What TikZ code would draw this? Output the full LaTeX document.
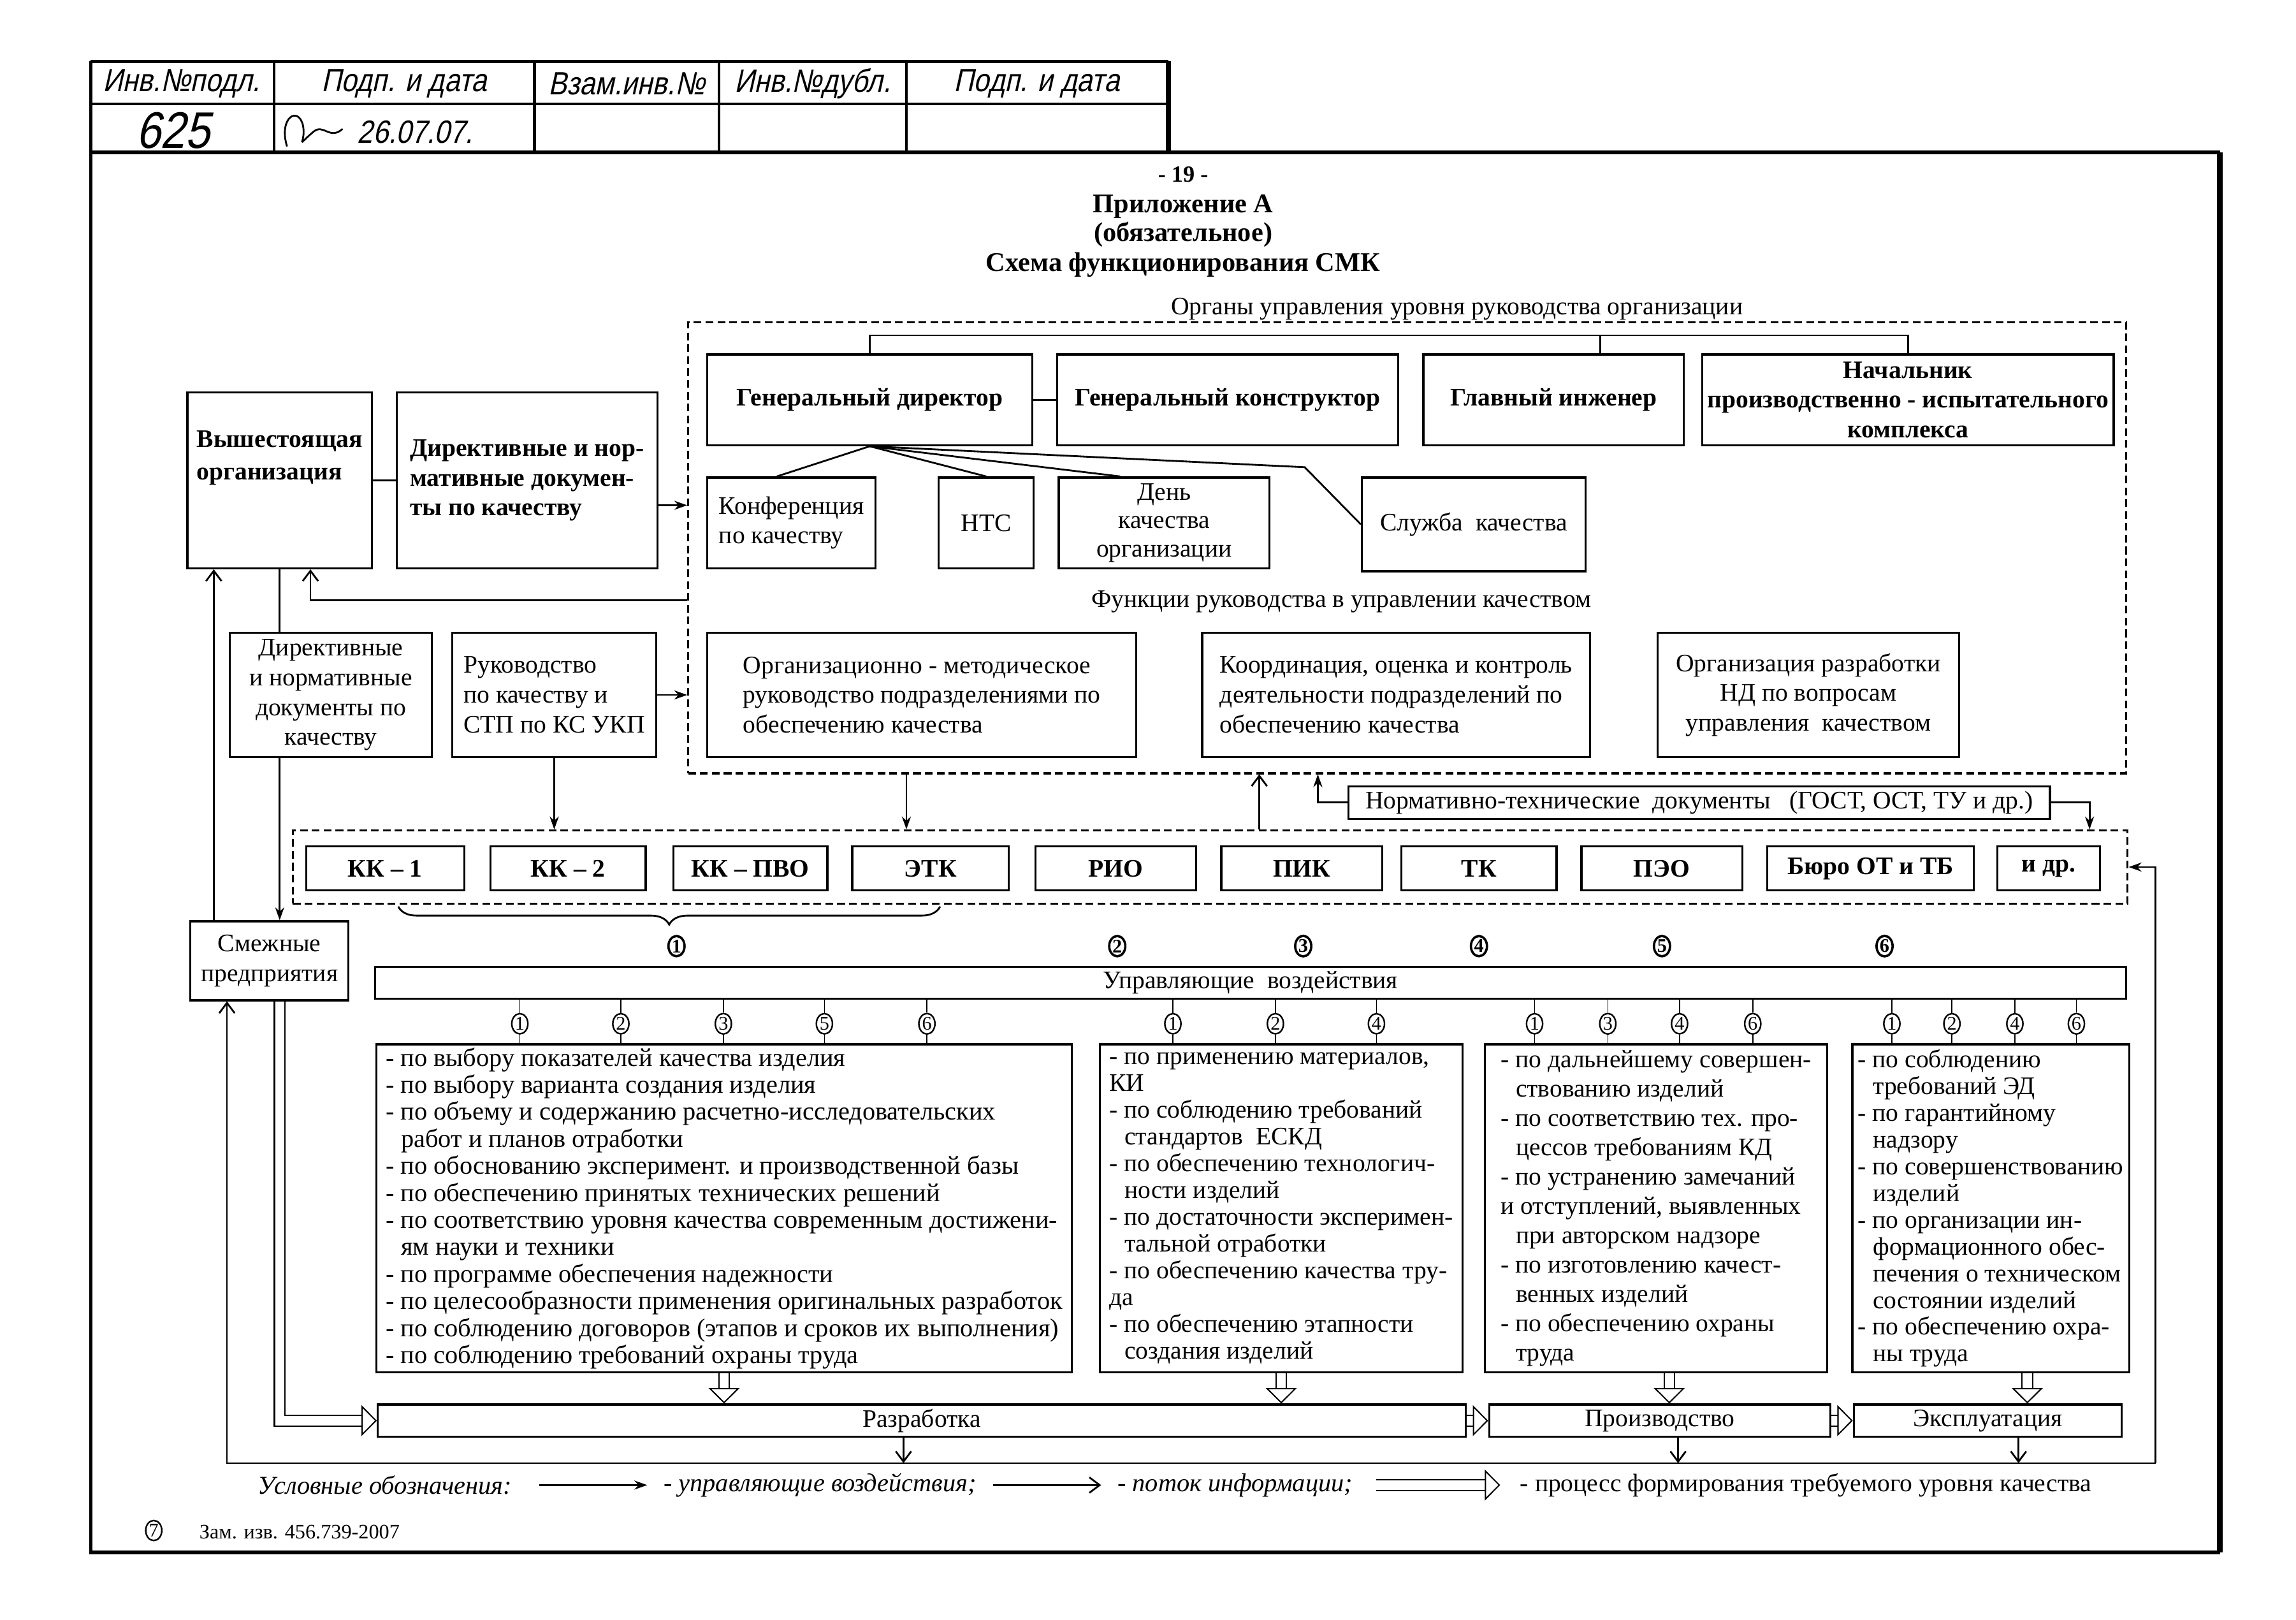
\documentclass[tikz,border=0pt]{standalone}
\usepackage{fontspec}
\setmainfont{Liberation Serif}
\newfontfamily\gostfont{Liberation Sans}[FakeSlant=0.22,FakeStretch=0.86]
\usepackage{tikz}
\usetikzlibrary{arrows.meta,positioning,fit,calc,decorations.pathreplacing,shapes.geometric}

\begin{document}
\begin{tikzpicture}[
  x=0.02cm, y=-0.02cm,
  font=\fontsize{9.8}{11.6}\selectfont,
  box/.style={draw,line width=0.8pt,inner sep=2pt,align=center},
  hdr/.style={box,font=\bfseries\fontsize{9.8}{11.6}\selectfont},
  dbox/.style={draw,dash pattern=on 3pt off 1.6pt,line width=0.8pt,inner sep=0pt},
  lst/.style={box,align=left,inner ysep=1pt,minimum height=4.48cm},
  num/.style={draw,ellipse,inner sep=0.3pt,line width=0.6pt,minimum width=0.22cm,minimum height=0.27cm,font=\fontsize{7.5}{8}\selectfont},
  ln/.style={line width=0.7pt},
  tick/.style={line width=0.4pt},
  ctl/.style={line width=0.7pt,-{Stealth[length=5pt,width=3.5pt]}},
  info/.style={line width=0.7pt,-{Straight Barb[length=4pt,width=6pt]}},
  proc/.style={line width=0.5pt,double,double distance=3.6pt,-{Triangle[open,length=6pt,width=12pt]}},
  stmp/.style={font=\gostfont\fontsize{12.5}{13}\selectfont},
  ttl/.style={font=\bfseries\fontsize{10.5}{12}\selectfont}
]
\useasboundingbox (0,0) rectangle (1568,1106);

% ---------------- frame and stamp
\draw[line width=1.4pt] (62,104) -- (62,1060) -- (1516,1060);
\draw[line width=1.4pt] (62,104) -- (1516,104);
\draw[line width=2.2pt] (1516,104) -- (1516,1060);
\draw[line width=1.2pt] (62,42) -- (798,42);
\draw[line width=2pt] (798,42) -- (798,104);
\draw[line width=1.2pt] (62,42) -- (62,104);
\draw[line width=1pt] (62,71) -- (798,71);
\foreach \x in {187,365,491,619} \draw[line width=1pt] (\x,42) -- (\x,104);
\foreach \nm/\x/\txt in {s1/124/Инв.№подл.,s2/276/Подп. и дата,s3/428/Взам.инв.№,s4/555/Инв.№дубл.,s5/708/Подп. и дата}
  \node[stmp] (\nm) at (\x,57) {\txt};
\node[font=\gostfont\fontsize{20}{20}\selectfont] (inv) at (118,89) {625};
\node[stmp,anchor=west] (dat) at (238,90) {26.07.07.};
\draw[line width=0.7pt] (196,100) .. controls (190,80) and (204,72) .. (207,86)
  .. controls (209,98) and (201,101) .. (214,90) .. controls (221,84) and (225,96) .. (234,88);

% ---------------- title
\node[font=\bfseries\fontsize{9}{10}\selectfont] (pg) at (808,119) {- 19 -};
\node[ttl] (t1) at (808,141) {Приложение А};
\node[ttl] (t2) at (808,160) {(обязательное)};
\node[ttl] (t3) at (808,181) {Схема функционирования СМК};

% ---------------- management level
\node (orgh) at (995,211) {Органы управления уровня руководства организации};
\node[dbox,fit={(470,220)(1452,528)}] (org) {};
\node[hdr,minimum width=4.44cm,minimum height=1.24cm] (gd) at (594,273) {Генеральный директор};
\node[hdr,minimum width=4.66cm,minimum height=1.24cm] (gk) at (838.5,273) {Генеральный конструктор};
\node[hdr,minimum width=3.56cm,minimum height=1.24cm] (gi) at (1061,273) {Главный инженер};
\node[hdr,minimum width=5.48cm,minimum height=1.24cm] (nach) at (1303,273) {Начальник\\производственно - испытательного\\комплекса};

\node[box,align=left,minimum width=2.30cm,minimum height=1.24cm] (konf) at (540.5,357) {Конференция\\по качеству};
\node[box,minimum width=1.30cm,minimum height=1.24cm] (nts) at (673.5,357) {НТС};
\node[box,minimum width=2.88cm,minimum height=1.24cm,font=\fontsize{9.8}{11}\selectfont] (den) at (795,357) {День\\качества\\организации};
\node[box,minimum width=3.06cm,minimum height=1.28cm] (sluzh) at (1006.5,358) {Служба\ \ качества};

\node (funh) at (916,411) {Функции руководства в управлении качеством};
\node[box,align=left,minimum width=5.86cm,minimum height=1.70cm] (orgm) at (629.5,474.5) {Организационно - методическое\\руководство подразделениями по\\обеспечению качества};
\node[box,align=left,minimum width=5.30cm,minimum height=1.70cm] (koord) at (953.5,474.5) {Координация, оценка и контроль\\деятельности подразделений по\\обеспечению качества};
\node[box,minimum width=4.12cm,minimum height=1.70cm] (ornd) at (1235,474.5) {Организация разработки\\НД по вопросам\\управления\ \ качеством};

% ---------------- left column
\node[hdr,align=left,minimum width=2.52cm,minimum height=2.40cm,font=\bfseries\fontsize{9.8}{12.5}\selectfont] (vysh) at (191,328) {Вышестоящая\\организация\\[0.25cm]\mbox{}};
\node[hdr,align=left,minimum width=3.56cm,minimum height=2.40cm] (dirdoc) at (360,328) {Директивные и нор-\\мативные докумен-\\ты по качеству};
\node[box,minimum width=2.76cm,minimum height=1.70cm] (dirdoc2) at (226,474.5) {Директивные\\и нормативные\\документы по\\качеству};
\node[box,align=left,minimum width=2.78cm,minimum height=1.70cm] (ruk) at (378.5,474.5) {Руководство\\по качеству и\\СТП по КС УКП};
\node[box,minimum width=2.16cm,minimum height=1.08cm] (smezh) at (184,656) {Смежные\\предприятия};

% ---------------- normative documents and departments
\node[box,inner sep=1pt,minimum width=9.58cm,minimum height=0.44cm] (ntd) at (1160.5,548) {Нормативно-технические\ \ документы\ \ \ (ГОСТ, ОСТ, ТУ и др.)};
\node[dbox,fit={(200,567)(1453,617)}] (kkrow) {};
\foreach \nm/\x/\w/\txt in {kk1/263/2.16/КК – 1,kk2/388/2.12/КК – 2,kkp/512.5/2.10/КК – ПВО,etk/635.5/2.14/ЭТК,rio/762/2.20/РИО,pik/889/2.20/ПИК,tk/1010/2.12/ТК,peo/1135/2.20/ПЭО,buro/1277.5/2.82/Бюро ОТ и ТБ,idr/1399/1.40/и др.}
  \node[hdr,minimum width=\w cm,minimum height=0.6cm] (\nm) at (\x,593) {\txt};

% ---------------- control actions
\coordinate (bl) at (272,619);
\coordinate (br) at (642,619);
\draw[ln,decorate,decoration={brace,mirror,amplitude=7pt}] (bl) -- (br);
\foreach \nm/\x/\d in {u1/462/1,u2/763/2,u3/890/3,u4/1010/4,u5/1135/5,u6/1287/6}
  \node[num,line width=0.9pt,font=\bfseries\fontsize{7.5}{8}\selectfont] (\nm) at (\x,646) {\d};
\node[box,inner sep=1pt,minimum width=23.92cm,minimum height=0.44cm] (upr) at (854,671) {Управляющие\ \ воздействия};

\node[lst,minimum width=9.50cm,font=\fontsize{10}{10.5}\selectfont] (l1) at (494.5,825) {%
- по выбору показателей качества изделия\\
- по выбору варианта создания изделия\\
- по объему и содержанию расчетно-исследовательских\\
\hspace*{0.6em}работ и планов отработки\\
- по обоснованию эксперимент. и производственной базы\\
- по обеспечению принятых технических решений\\
- по соответствию уровня качества современным достижени-\\
\hspace*{0.6em}ям науки и техники\\
- по программе обеспечения надежности\\
- по целесообразности применения оригинальных разработок\\
- по соблюдению договоров (этапов и сроков их выполнения)\\
- по соблюдению требований охраны труда};
\node[lst,minimum width=4.96cm,font=\fontsize{9.8}{10.4}\selectfont] (l2) at (875,825) {%
- по применению материалов,\\
КИ\\
- по соблюдению требований\\
\hspace*{0.6em}стандартов\ \ ЕСКД\\
- по обеспечению технологич-\\
\hspace*{0.6em}ности изделий\\
- по достаточности эксперимен-\\
\hspace*{0.6em}тальной отработки\\
- по обеспечению качества тру-\\
да\\
- по обеспечению этапности\\
\hspace*{0.6em}создания изделий};
\node[lst,minimum width=4.68cm,font=\fontsize{9.8}{11.4}\selectfont] (l3) at (1131,825) {%
- по дальнейшему совершен-\\
\hspace*{0.6em}ствованию изделий\\
- по соответствию тех. про-\\
\hspace*{0.6em}цессов требованиям КД\\
- по устранению замечаний\\
и отступлений, выявленных\\
\hspace*{0.6em}при авторском надзоре\\
- по изготовлению качест-\\
\hspace*{0.6em}венных изделий\\
- по обеспечению охраны\\
\hspace*{0.6em}труда};
\node[lst,minimum width=3.78cm,font=\fontsize{9.8}{10.4}\selectfont] (l4) at (1359.5,825) {%
- по соблюдению\\
\hspace*{0.6em}требований ЭД\\
- по гарантийному\\
\hspace*{0.6em}надзору\\
- по совершенствованию\\
\hspace*{0.6em}изделий\\
- по организации ин-\\
\hspace*{0.6em}формационного обес-\\
\hspace*{0.6em}печения о техническом\\
\hspace*{0.6em}состоянии изделий\\
- по обеспечению охра-\\
\hspace*{0.6em}ны труда};

\foreach \bx/\x/\d [count=\i] in {l1/355/1,l1/424/2,l1/494/3,l1/563/5,l1/633/6,l2/801/1,l2/871/2,l2/940/4,l3/1048/1,l3/1098/3,l3/1147/4,l3/1197/6,l4/1292/1,l4/1333/2,l4/1376/4,l4/1418/6}{
  \node[num] (c\i) at (\x,699) {\d};
  \draw[tick] (c\i.north) -- (c\i.north |- upr.south);
  \draw[tick] (c\i.south) -- (c\i.south |- \bx.north);
}

% ---------------- life cycle stages
\node[box,inner sep=1pt,minimum width=14.86cm,minimum height=0.44cm] (razr) at (629.5,970) {Разработка};
\node[box,inner sep=1pt,minimum width=4.66cm,minimum height=0.44cm] (proizv) at (1133.5,970) {Производство};
\node[box,inner sep=1pt,minimum width=3.66cm,minimum height=0.44cm] (ekspl) at (1357.5,970) {Эксплуатация};

% ---------------- connectors, top part
\coordinate (brk) at (594,229);
\coordinate (c1093) at (1093,0);
\draw[ln] (gd.north) -- (brk) -| (nach.north);
\draw[ln] (c1093 |- gi.north) -- (c1093 |- brk);
\draw[ln] (gd) -- (gk);
\coordinate (kink) at (891,319);
\draw[ln] (gd.south) -- ([xshift=-0.2cm]konf.north);
\draw[ln] (gd.south) -- (nts.north);
\draw[ln] (gd.south) -- ([xshift=-0.6cm]den.north);
\draw[ln] (gd.south) -- (kink) -- (sluzh.west);
\draw[ln] (vysh) -- (dirdoc);

\coordinate (dd) at ([yshift=-0.34cm]dirdoc.east);
\draw[ctl] (dd) -- (dd -| org.west);
\draw[ctl] (ruk.east) -- (ruk.east -| org.west);
\coordinate (c410) at (0,410);
\coordinate (c212) at (212,0);
\draw[info] (c410 -| org.west) -| (c212 |- vysh.south);
\coordinate (c146) at (146,0);
\draw[info] (c146 |- smezh.north) -- (c146 |- vysh.south);
\draw[ln] (vysh.south) -- (vysh.south |- dirdoc2.north);
\draw[ctl] (vysh.south |- dirdoc2.south) -- (vysh.south |- smezh.north);
\draw[proc] (vysh.south |- smezh.south) |- (razr.west);

\draw[ctl] (ruk.south) -- (ruk.south |- kkrow.north);
\coordinate (c619) at (619,0);
\draw[ctl] (c619 |- org.south) -- (c619 |- kkrow.north);
\coordinate (up1) at (860,0);
\draw[info] (up1 |- kkrow.north) -- (up1 |- org.south);
\coordinate (nl) at (900,0);
\coordinate (nr) at (1427,0);
\draw[ctl] (ntd.west) -| (nl |- org.south);
\draw[ctl] (ntd.east) -| (nr |- kkrow.north);

% ---------------- connectors, bottom part
\draw[proc] (l1.south) -- (l1.south |- razr.north);
\draw[proc] (l2.south) -- (l2.south |- razr.north);
\draw[proc] ([xshift=0.18cm]l3.south) -- ([xshift=0.18cm]l3.south |- proizv.north);
\draw[proc] ([xshift=0.5cm]l4.south) -- ([xshift=0.5cm]l4.south |- ekspl.north);
\draw[proc] (razr) -- (proizv);
\draw[proc] (proizv) -- (ekspl);

\coordinate (bl1) at (155,999);
\coordinate (br1) at (1472,999);
\draw[info] ([xshift=-0.25cm]razr.south) -- ([xshift=-0.25cm]razr.south |- bl1);
\draw[info] ([xshift=0.25cm]proizv.south) -- ([xshift=0.25cm]proizv.south |- bl1);
\draw[info] ([xshift=0.42cm]ekspl.south) -- ([xshift=0.42cm]ekspl.south |- bl1);
\draw[info] (br1) -- (bl1) -- (bl1 |- smezh.south);
\draw[ctl] (br1) |- (kkrow.east);

% ---------------- legend
\node[anchor=west,font=\itshape] (leg0) at (170,1014) {Условные обозначения:};
\node[anchor=west,font=\itshape] (leg1) at (447,1014) {- управляющие воздействия;};
\node[anchor=west,font=\itshape] (leg2) at (757,1014) {- поток информации;};
\node[anchor=west] (leg3) at (1032,1014) {- процесс формирования требуемого уровня качества};
\draw[ctl] ([xshift=0.25cm]leg0.east) -- ([xshift=-0.1cm]leg1.west);
\draw[info] ([xshift=0.1cm]leg1.east) -- ([xshift=-0.1cm]leg2.west);
\draw[proc] ([xshift=0.2cm]leg2.east) -- ([xshift=-0.15cm]leg3.west);

\node[num,font=\fontsize{7.5}{8}\selectfont] (n7) at (105,1045) {7};
\node[anchor=west,font=\fontsize{8}{9}\selectfont] (zam) at (130,1046) {Зам. изв. 456.739-2007};
\end{tikzpicture}
\end{document}
